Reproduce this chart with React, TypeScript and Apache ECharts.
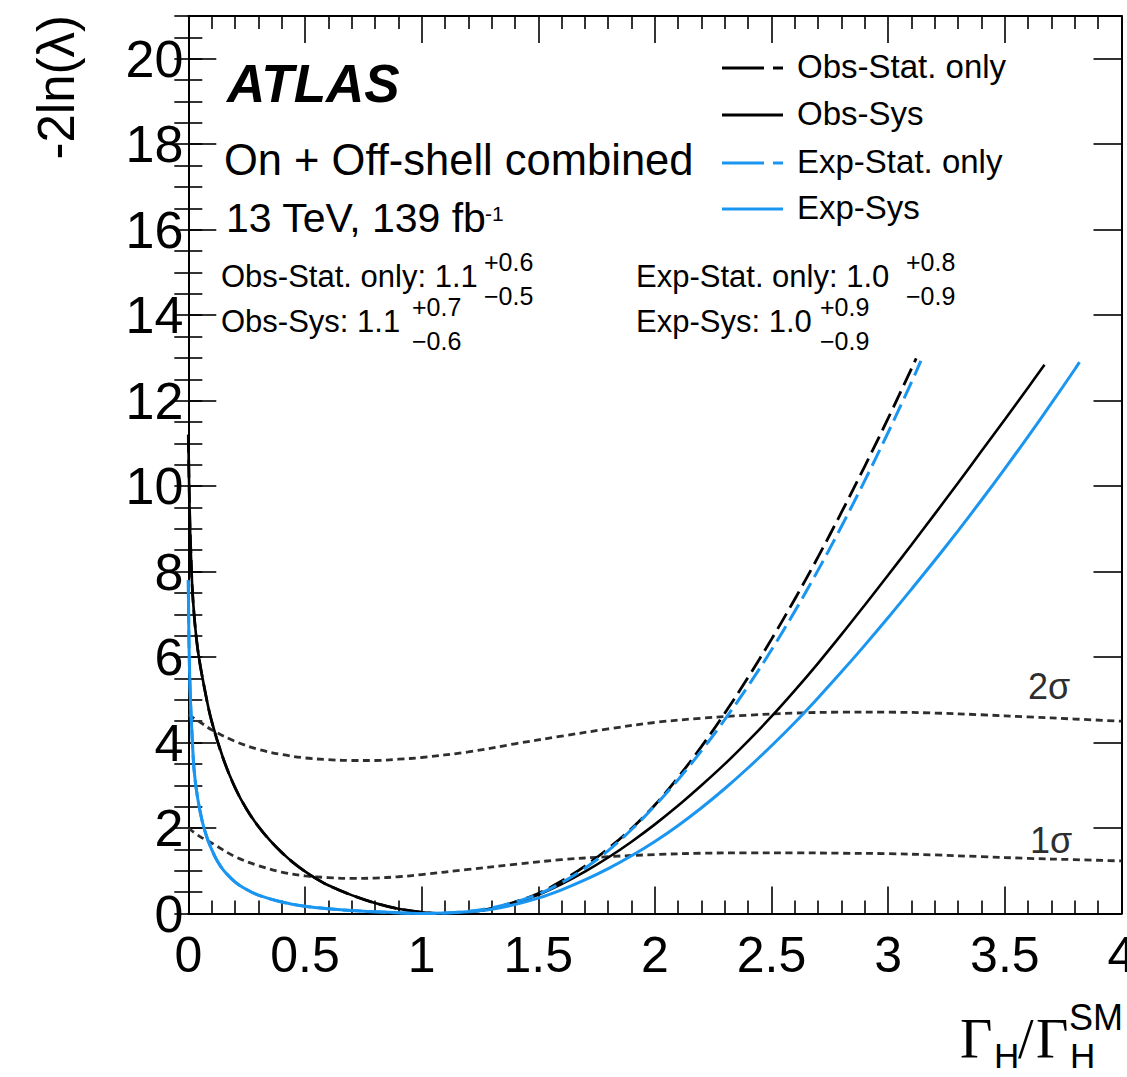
import React, { useEffect, useRef } from "react";
import * as echarts from "echarts";

// ---- axis ranges ----
const X_MIN = 0, X_MAX = 4, X_STEP = 0.5;
const Y_MIN = 0, Y_MAX = 21, Y_STEP = 2, Y_MINOR = 0.5;

// ---- Obs-Stat. only (black dashed) ----
const obsStatX = [0, 0.005, 0.01, 0.02, 0.04, 0.07, 0.1, 0.15, 0.2, 0.25, 0.3, 0.35, 0.4, 0.45, 0.5, 0.55, 0.6, 0.7, 0.8, 0.9, 1.0, 1.1, 1.2, 1.3, 1.4, 1.5, 1.6, 1.7, 1.8, 1.9, 2.0, 2.1, 2.2, 2.3, 2.4, 2.5, 2.6, 2.7, 2.8, 2.9, 3.0, 3.1, 3.12];
const obsStatY = [11.2, 9.6, 8.6, 7.35, 6.2, 5.25, 4.5, 3.62, 2.95, 2.44, 2.04, 1.71, 1.43, 1.19, 0.985, 0.81, 0.66, 0.43, 0.245, 0.11, 0.03, 0, 0.03, 0.12, 0.27, 0.47, 0.76, 1.11, 1.52, 1.99, 2.54, 3.19, 3.91, 4.69, 5.53, 6.42, 7.36, 8.35, 9.39, 10.47, 11.59, 12.75, 12.99];

// ---- Obs-Sys (black solid) ----
const obsSysX = [0, 0.005, 0.01, 0.02, 0.04, 0.07, 0.1, 0.15, 0.2, 0.25, 0.3, 0.35, 0.4, 0.45, 0.5, 0.55, 0.6, 0.7, 0.8, 0.9, 1.0, 1.1, 1.2, 1.3, 1.4, 1.5, 1.6, 1.7, 1.8, 1.9, 2.0, 2.1, 2.2, 2.3, 2.4, 2.5, 2.6, 2.7, 2.8, 2.9, 3.0, 3.1, 3.2, 3.3, 3.4, 3.5, 3.6, 3.67];
const obsSysY = [11.2, 9.6, 8.6, 7.35, 6.2, 5.25, 4.5, 3.62, 2.95, 2.44, 2.04, 1.71, 1.43, 1.19, 0.985, 0.81, 0.66, 0.43, 0.245, 0.11, 0.03, 0, 0.03, 0.11, 0.25, 0.44, 0.69, 0.98, 1.31, 1.68, 2.085, 2.525, 3.0, 3.5, 4.04, 4.61, 5.22, 5.86, 6.53, 7.22, 7.92, 8.63, 9.35, 10.08, 10.82, 11.56, 12.31, 12.84];

// ---- Exp-Stat. only (blue dashed) ----
const expStatX = [0, 0.003, 0.008, 0.015, 0.025, 0.04, 0.06, 0.08, 0.1, 0.125, 0.15, 0.2, 0.25, 0.3, 0.4, 0.5, 0.6, 0.7, 0.8, 0.9, 1.0, 1.1, 1.2, 1.3, 1.4, 1.5, 1.6, 1.7, 1.8, 1.9, 2.0, 2.1, 2.2, 2.3, 2.4, 2.5, 2.6, 2.7, 2.8, 2.9, 3.0, 3.1, 3.14];
const expStatY = [7.8, 6.3, 5.2, 4.3, 3.35, 2.7, 2.15, 1.78, 1.5, 1.22, 1.02, 0.74, 0.56, 0.43, 0.27, 0.17, 0.11, 0.07, 0.04, 0.015, 0, 0.01, 0.05, 0.13, 0.27, 0.45, 0.72, 1.06, 1.47, 1.965, 2.52, 3.135, 3.81, 4.54, 5.325, 6.17, 7.075, 8.04, 9.06, 10.135, 11.26, 12.435, 12.93];

// ---- Exp-Sys (blue solid) ----
const expSysX = [0, 0.003, 0.008, 0.015, 0.025, 0.04, 0.06, 0.08, 0.1, 0.125, 0.15, 0.2, 0.25, 0.3, 0.4, 0.5, 0.6, 0.7, 0.8, 0.9, 1.0, 1.1, 1.2, 1.3, 1.4, 1.5, 1.6, 1.7, 1.8, 1.9, 2.0, 2.1, 2.2, 2.3, 2.4, 2.5, 2.6, 2.7, 2.8, 2.9, 3.0, 3.1, 3.2, 3.3, 3.4, 3.5, 3.6, 3.7, 3.8, 3.82];
const expSysY = [7.8, 6.3, 5.2, 4.3, 3.35, 2.7, 2.15, 1.78, 1.5, 1.22, 1.02, 0.74, 0.56, 0.43, 0.27, 0.17, 0.11, 0.07, 0.04, 0.015, 0, 0.01, 0.04, 0.1, 0.21, 0.36, 0.555, 0.785, 1.05, 1.35, 1.685, 2.06, 2.475, 2.925, 3.41, 3.925, 4.47, 5.05, 5.655, 6.28, 6.925, 7.59, 8.265, 8.96, 9.675, 10.41, 11.165, 11.94, 12.735, 12.9];

// ---- 1 sigma / 2 sigma thresholds (dotted) ----
const sigmaX = [0, 0.05, 0.1, 0.2, 0.3, 0.4, 0.5, 0.6, 0.7, 0.8, 0.9, 1.0, 1.2, 1.4, 1.6, 1.8, 2.0, 2.2, 2.4, 2.6, 2.8, 3.0, 3.2, 3.4, 3.6, 3.8, 4.0];
const sigma2Y = [4.65, 4.48, 4.3, 4.03, 3.84, 3.72, 3.64, 3.6, 3.58, 3.58, 3.61, 3.65, 3.78, 3.97, 4.15, 4.32, 4.47, 4.57, 4.64, 4.69, 4.71, 4.71, 4.69, 4.65, 4.6, 4.55, 4.5];
const sigma1Y = [2.0, 1.8, 1.65, 1.33, 1.12, 0.97, 0.88, 0.84, 0.82, 0.83, 0.86, 0.91, 1.03, 1.15, 1.26, 1.33, 1.38, 1.41, 1.42, 1.42, 1.41, 1.4, 1.37, 1.33, 1.29, 1.26, 1.23];

// ---- texts ----
const legendNames = ["Obs-Stat. only", "Obs-Sys", "Exp-Stat. only", "Exp-Sys"];
const resultRows = [
  { label: "Obs-Stat. only: 1.1", up: "+0.6", down: "\u22120.5" },
  { label: "Obs-Sys: 1.1", up: "+0.7", down: "\u22120.6" },
  { label: "Exp-Stat. only: 1.0", up: "+0.8", down: "\u22120.9" },
  { label: "Exp-Sys: 1.0", up: "+0.9", down: "\u22120.9" },
];

const BLUE = "#1a96f0";
const BLACK = "#000000";
const DOT = "#2e2e2e";
const SANS = '"Liberation Sans", Arial, Helvetica, sans-serif';
const SERIF = '"Liberation Serif", "Times New Roman", serif';

function pairs(xs: number[], ys: number[]) {
  return xs.map((x, i) => [x, ys[i]]);
}

function txt(text: string, x: number, baseline: number, size: number, opt: any = {}) {
  const family = opt.family || SANS;
  const weight = opt.weight || "normal";
  const style = opt.fontStyle || "normal";
  const k = family === SERIF ? 0.338 : 0.347;
  return {
    type: "text",
    x,
    y: baseline - k * size,
    silent: true,
    style: {
      text,
      font: `${style} ${weight} ${size}px ${family}`,
      fill: opt.fill || "#000",
      align: opt.align || "left",
      textAlign: opt.align || "left",
      verticalAlign: "middle",
      textVerticalAlign: "middle",
    },
  };
}

function hline(x1: number, x2: number, y: number, color: string, w: number) {
  return {
    type: "line",
    silent: true,
    shape: { x1, y1: y, x2, y2: y },
    style: { stroke: color, lineWidth: w },
  };
}

export default function App() {
  const ref = useRef<HTMLDivElement>(null);

  useEffect(() => {
    document.body.style.margin = "0";
    document.body.style.overflow = "hidden";
    const chart = echarts.init(ref.current!, null, { renderer: "svg" });

    const tickStyle = { color: "#000", width: 1.6 };
    const lineStyle = { color: "#000", width: 2 };

    const xBase = {
      type: "value",
      min: X_MIN,
      max: X_MAX,
      interval: X_STEP,
      splitLine: { show: false },
      minorSplitLine: { show: false },
      axisLine: { show: true, onZero: false, lineStyle },
      axisTick: { show: true, inside: true, length: 27, lineStyle: tickStyle },
      minorTick: { show: true, splitNumber: 5, length: 13, lineStyle: tickStyle },
    };
    const yMajor = {
      type: "value",
      min: Y_MIN,
      max: Y_MAX,
      interval: Y_STEP,
      splitLine: { show: false },
      axisLine: { show: true, onZero: false, lineStyle },
      axisTick: { show: true, inside: true, length: 28, lineStyle: tickStyle },
    };
    const yMinor = {
      type: "value",
      min: Y_MIN,
      max: Y_MAX,
      interval: Y_MINOR,
      splitLine: { show: false },
      axisLine: { show: false },
      axisLabel: { show: false },
      axisTick: { show: true, inside: true, length: 14, lineStyle: tickStyle },
    };

    const graphics: any[] = [];
    // ATLAS block
    graphics.push(txt("ATLAS", 227, 102, 53, { weight: "bold", fontStyle: "italic" }));
    graphics.push(txt("On + Off-shell combined", 224, 175, 43.5));
    graphics.push(txt("13 TeV, 139 fb", 226, 232, 41));
    graphics.push(txt("-1", 485, 221, 21));
    // results
    const colX = [221, 221, 636, 636];
    const rowB = [287, 332, 287, 332];
    const supX = [484, 412, 906, 820];
    resultRows.forEach((r, i) => {
      graphics.push(txt(r.label, colX[i], rowB[i], 31));
      graphics.push(txt(r.up, supX[i], rowB[i] - 16, 25));
      graphics.push(txt(r.down, supX[i], rowB[i] + 18, 25));
    });
    // legend
    const legY = [68, 115, 163, 209];
    const legColors = [BLACK, BLACK, BLUE, BLUE];
    const legDashed = [true, false, true, false];
    legendNames.forEach((name, i) => {
      if (legDashed[i]) {
        graphics.push(hline(722, 764, legY[i], legColors[i], 3));
        graphics.push(hline(773, 783, legY[i], legColors[i], 3));
      } else {
        graphics.push(hline(722, 783, legY[i], legColors[i], 3));
      }
      graphics.push(txt(name, 797, legY[i] + 10, 33));
    });
    // sigma labels
    graphics.push(txt("2\u03c3", 1028, 699, 36, { fill: DOT }));
    graphics.push(txt("1\u03c3", 1030, 853, 36, { fill: DOT }));
    // y-axis title
    graphics.push({
      type: "text",
      x: 56,
      y: 15,
      rotation: Math.PI / 2,
      silent: true,
      style: {
        text: "-2ln(\u03bb)",
        font: `normal normal 51px ${SANS}`,
        fill: "#000",
        align: "right",
        textAlign: "right",
        verticalAlign: "middle",
        textVerticalAlign: "middle",
      },
    });
    // x-axis title  Γ_H / Γ_H^SM
    graphics.push(txt("\u0393", 960, 1058, 56, { family: SERIF }));
    graphics.push(txt("H", 994, 1068, 35));
    graphics.push(txt("/", 1018, 1058, 56, { family: SERIF }));
    graphics.push(txt("\u0393", 1036, 1058, 56, { family: SERIF }));
    graphics.push(txt("H", 1070, 1068, 35));
    graphics.push(txt("SM", 1069, 1030, 36));

    const lineSeries = (name: string, xs: number[], ys: number[], color: string, width: number, type: any, z: number) => ({
      name,
      type: "line",
      xAxisIndex: 0,
      yAxisIndex: 0,
      data: pairs(xs, ys),
      showSymbol: false,
      symbol: "none",
      smooth: 0.35,
      clip: true,
      z,
      lineStyle: { color, width, type },
    });

    chart.setOption({
      animation: false,
      backgroundColor: "#ffffff",
      grid: {
        left: 188.3,
        right: 5.5,
        top: 16,
        bottom: 163.5,
        containLabel: false,
        outerBoundsMode: "none",
      },
      xAxis: [
        {
          ...xBase,
          position: "bottom",
          axisLabel: {
            show: true,
            fontSize: 50,
            fontFamily: SANS,
            color: "#000",
            margin: 16,
          },
        },
        { ...xBase, position: "top", axisLabel: { show: false } },
      ],
      yAxis: [
        {
          ...yMajor,
          position: "left",
          axisLabel: {
            show: true,
            fontSize: 52,
            fontFamily: SANS,
            color: "#000",
            margin: 5,
            formatter: (v: number) => (v > 20.5 ? "" : String(v)),
          },
        },
        { ...yMinor, position: "left" },
        { ...yMajor, position: "right", axisLabel: { show: false } },
        { ...yMinor, position: "right" },
      ],
      graphic: { elements: graphics },
      series: [
        lineSeries("2sigma", sigmaX, sigma2Y, DOT, 2.8, [7, 4.5], 2),
        lineSeries("1sigma", sigmaX, sigma1Y, DOT, 2.8, [7, 4.5], 2),
        lineSeries("Obs-Sys", obsSysX, obsSysY, BLACK, 2.6, "solid", 3),
        lineSeries("Obs-Stat. only", obsStatX, obsStatY, BLACK, 2.8, [18, 7], 3),
        lineSeries("Exp-Sys", expSysX, expSysY, BLUE, 3, "solid", 4),
        lineSeries("Exp-Stat. only", expStatX, expStatY, BLUE, 3, [18, 7], 4),
      ],
    });

    return () => chart.dispose();
  }, []);

  return <div ref={ref} style={{ width: 1127, height: 1077 }} />;
}
